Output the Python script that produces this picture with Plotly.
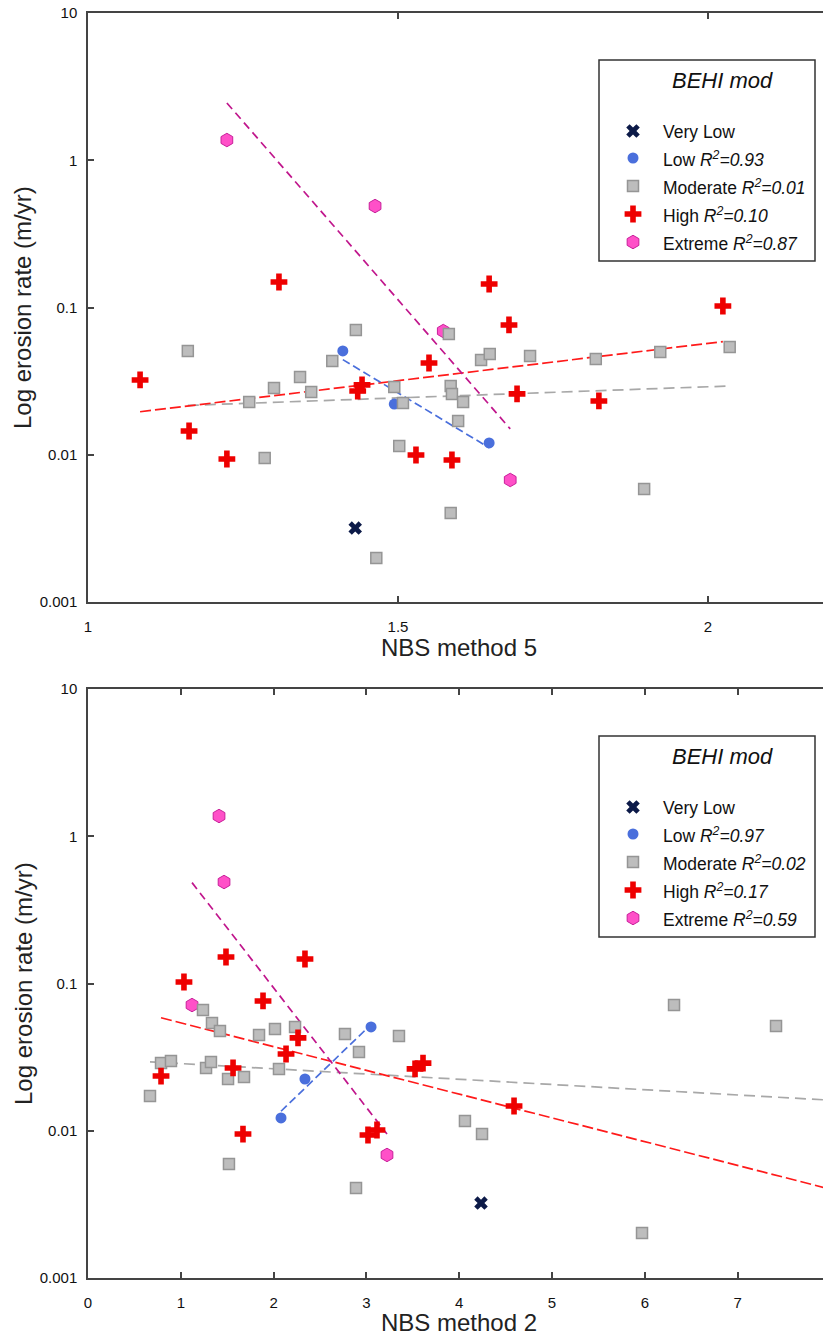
import numpy as np
import plotly.graph_objects as go

# ---------------- data: NBS method 5 (upper panel) ----------------
m5_vlow_x = [1.431]
m5_vlow_y = [0.00318]

m5_low_x = [1.411, 1.494, 1.647]
m5_low_y = [0.0507, 0.0221, 0.01202]

m5_mod_x = [1.161, 1.260, 1.285, 1.300, 1.342, 1.360, 1.394, 1.432, 1.465, 1.494,
            1.502, 1.508, 1.582, 1.585, 1.587, 1.597, 1.605, 1.585, 1.634, 1.648,
            1.713, 1.819, 1.897, 1.923, 2.035]
m5_mod_y = [0.0507, 0.0228, 0.00950, 0.0284, 0.0337, 0.0267, 0.0433, 0.0703, 0.00199, 0.0288,
            0.01147, 0.02246, 0.0661, 0.0293, 0.0259, 0.01696, 0.0228, 0.00402, 0.0440, 0.0483,
            0.0469, 0.0447, 0.00585, 0.0498, 0.0539]

m5_high_x = [1.084, 1.163, 1.224, 1.308, 1.435, 1.442, 1.529, 1.550, 1.587, 1.647,
             1.679, 1.692, 1.824, 2.024]
m5_high_y = [0.0322, 0.01450, 0.00936, 0.1490, 0.0271, 0.0298, 0.00996, 0.0420, 0.00921, 0.1444,
             0.0761, 0.0259, 0.0232, 0.1024]

m5_ext_x = [1.224, 1.463, 1.573, 1.681]
m5_ext_y = [1.372, 0.489, 0.0692, 0.00674]

m5_r2 = {"Low": "0.93", "Moderate": "0.01", "High": "0.10", "Extreme": "0.87"}

# ---------------- data: NBS method 2 (lower panel) ----------------
m2_vlow_x = [4.235]
m2_vlow_y = [0.00323]

m2_low_x = [2.080, 2.338, 3.050]
m2_low_y = [0.01221, 0.02246, 0.0507]

m2_mod_x = [0.668, 0.787, 0.894, 1.239, 1.272, 1.325, 1.336, 1.422, 1.509, 1.519,
            1.681, 1.843, 2.015, 2.058, 2.231, 2.769, 2.888, 2.920, 3.351, 4.062,
            4.246, 5.970, 6.315, 7.414]
m2_mod_y = [0.01722, 0.0288, 0.0298, 0.0661, 0.0267, 0.0293, 0.0539, 0.0476, 0.02246, 0.00595,
            0.0232, 0.0447, 0.0491, 0.0263, 0.0507, 0.0454, 0.00409, 0.0343, 0.0440, 0.01165,
            0.0095, 0.00202, 0.0714, 0.0514]

m2_high_x = [0.787, 1.034, 1.487, 1.563, 1.670, 1.886, 2.134, 2.263, 2.338, 3.017,
             3.114, 3.524, 3.610, 4.591]
m2_high_y = [0.02353, 0.1024, 0.1514, 0.0267, 0.0095, 0.0761, 0.0332, 0.0427, 0.1467, 0.00936,
             0.01012, 0.0263, 0.0288, 0.01473]

m2_ext_x = [1.121, 1.412, 1.466, 3.222]
m2_ext_y = [0.0714, 1.372, 0.489, 0.00685]

m2_r2 = {"Low": "0.97", "Moderate": "0.02", "High": "0.17", "Extreme": "0.59"}

# axis ticks
y_tickvals = [0.001, 0.01, 0.1, 1, 10]
y_ticktext = ["0.001", "0.01", "0.1", "1", "10"]
m5_xticks = [1, 1.5, 2]
m5_xticktext = ["1", "1.5", "2"]
m2_xticks = [0, 1, 2, 3, 4, 5, 6, 7]
m2_xticktext = [str(v) for v in m2_xticks]

# ---------------- styling ----------------
W, H = 823, 1338
FONT = "Liberation Sans, Arial, Helvetica, sans-serif"
AXIS_COL = "#444444"

STY = {
    "Very Low": dict(symbol="x", size=12, color="#0c1a48", line=dict(width=0)),
    "Low": dict(symbol="circle", size=11, color="#4a6fdc", line=dict(width=0)),
    "Moderate": dict(symbol="square", size=11, color="#bdbdbd", line=dict(width=1.5, color="#959595")),
    "High": dict(symbol="cross", size=14, color="#ee0000", line=dict(width=0)),
    "Extreme": dict(symbol="hexagon", size=13.5, color="#ff50c8", line=dict(width=1, color="#c8209a")),
}
FIT_COL = {"Low": "#4a6fdc", "Moderate": "#a8a8a8", "High": "#ff1a1a", "Extreme": "#c0168c"}
FIT_DASH = {"Low": "8px,4px", "Moderate": "11px,6px", "High": "11px,4px", "Extreme": "8px,5px"}


def log_fit(x, y, x_end=None):
    """Least-squares line of log10(y) on x, spanning the data (or up to x_end)."""
    x = np.asarray(x, float)
    b, a = np.polyfit(x, np.log10(np.asarray(y, float)), 1)
    xs = np.array([x.min(), x.max() if x_end is None else x_end])
    return xs, 10 ** (a + b * xs)


fig = go.Figure()


def add_panel(xa, ya, groups, ext_ends):
    # fitted trend lines first, markers on top
    for name in ["Moderate", "High", "Low", "Extreme"]:
        gx, gy = groups[name]
        fx, fy = log_fit(gx, gy, ext_ends.get(name))
        fig.add_trace(go.Scatter(x=fx, y=fy, mode="lines", xaxis=xa, yaxis=ya,
                                 line=dict(color=FIT_COL[name], width=1.7, dash=FIT_DASH[name]),
                                 showlegend=False, hoverinfo="skip"))
    for name in ["Extreme", "Low", "Moderate", "High", "Very Low"]:
        gx, gy = groups[name]
        fig.add_trace(go.Scatter(x=gx, y=gy, mode="markers", xaxis=xa, yaxis=ya,
                                 marker=STY[name], name=name, showlegend=False))


add_panel("x", "y", {
    "Very Low": (m5_vlow_x, m5_vlow_y), "Low": (m5_low_x, m5_low_y),
    "Moderate": (m5_mod_x, m5_mod_y), "High": (m5_high_x, m5_high_y),
    "Extreme": (m5_ext_x, m5_ext_y)}, {})

add_panel("x2", "y2", {
    "Very Low": (m2_vlow_x, m2_vlow_y), "Low": (m2_low_x, m2_low_y),
    "Moderate": (m2_mod_x, m2_mod_y), "High": (m2_high_x, m2_high_y),
    "Extreme": (m2_ext_x, m2_ext_y)}, {"Moderate": 8.0, "High": 8.0})

# ---------------- hand-built legend boxes ----------------
LEG_X0, LEG_X1 = 599, 815
LEG_ROWS = [71, 98, 126, 154, 182]
LEG_NAMES = ["Very Low", "Low", "Moderate", "High", "Extreme"]
annotations = []
shapes = []


def add_legend(xa, ya, top_px, r2):
    for n, ry in zip(LEG_NAMES, LEG_ROWS):
        fig.add_trace(go.Scatter(x=[34], y=[ry], mode="markers", xaxis=xa, yaxis=ya,
                                 marker=STY[n], showlegend=False, hoverinfo="skip"))
        label = n if n not in r2 else f"{n} <i>R<sup>2</sup>={r2[n]}</i>"
        annotations.append(dict(xref=xa, yref=ya, x=62, y=ry + 1, text=label,
                                showarrow=False, xanchor="left", yanchor="middle",
                                font=dict(family=FONT, size=17.5, color="#111111")))
    shapes.append(dict(type="rect", xref="paper", yref="paper",
                       x0=LEG_X0 / W, x1=LEG_X1 / W,
                       y0=1 - (top_px + 201) / H, y1=1 - top_px / H,
                       line=dict(color="#333333", width=1.5), fillcolor="rgba(0,0,0,0)"))
    annotations.append(dict(xref=xa, yref=ya, x=123, y=20, text="<i>BEHI mod</i>",
                            showarrow=False, xanchor="center", yanchor="middle",
                            font=dict(family=FONT, size=22, color="#111111")))


add_legend("x3", "y3", 60, m5_r2)
add_legend("x4", "y4", 736, m2_r2)

# axis titles
for ytitle_px, xtitle_px, xtitle in [(308, 647, "NBS method 5"), (984, 1322, "NBS method 2")]:
    annotations.append(dict(xref="paper", yref="paper", x=459 / W, y=1 - xtitle_px / H,
                            text=xtitle, showarrow=False, xanchor="center", yanchor="middle",
                            font=dict(family=FONT, size=24, color="#222222")))
    annotations.append(dict(xref="paper", yref="paper", x=23 / W, y=1 - ytitle_px / H,
                            text="Log erosion rate (m/yr)", textangle=-90, showarrow=False,
                            xanchor="center", yanchor="middle",
                            font=dict(family=FONT, size=24, color="#222222")))

tickfont = dict(family=FONT, size=15, color="#111111")
common_x = dict(showline=True, linecolor=AXIS_COL, linewidth=1.5, mirror="ticks",
                ticks="inside", ticklen=6, tickwidth=1.5, tickcolor=AXIS_COL,
                showgrid=False, zeroline=False, tickfont=tickfont, ticklabelstandoff=10,
                automargin=False, fixedrange=True)
common_y = dict(type="log", range=[-3, 1], showline=True, linecolor=AXIS_COL, linewidth=1.5,
                mirror=False, ticks="inside", ticklen=6, tickwidth=1.5, tickcolor=AXIS_COL,
                showgrid=False, zeroline=False, tickfont=tickfont, ticklabelstandoff=6,
                tickvals=y_tickvals, ticktext=y_ticktext, automargin=False, fixedrange=True)
hidden = dict(visible=False, automargin=False, fixedrange=True)

x_dom = [88 / W, 1.0]
top_dom = [1 - 602 / H, 1 - 13 / H]
bot_dom = [1 - 1278 / H, 1 - 689 / H]
leg_xdom = [LEG_X0 / W, LEG_X1 / W]

fig.update_layout(
    template="none",
    width=W, height=H, margin=dict(l=0, r=0, t=0, b=0, pad=0, autoexpand=False),
    paper_bgcolor="white", plot_bgcolor="white", showlegend=False,
    xaxis=dict(domain=x_dom, range=[1, 1 + 735 / 620], anchor="y",
               tickvals=m5_xticks, ticktext=m5_xticktext, **common_x),
    yaxis=dict(domain=top_dom, anchor="x", **common_y),
    xaxis2=dict(domain=x_dom, range=[0, 735 / 92.8], anchor="y2",
                tickvals=m2_xticks, ticktext=m2_xticktext, **common_x),
    yaxis2=dict(domain=bot_dom, anchor="x2", **common_y),
    xaxis3=dict(domain=leg_xdom, range=[0, 216], anchor="y3", **hidden),
    yaxis3=dict(domain=[1 - 261 / H, 1 - 60 / H], range=[201, 0], anchor="x3", **hidden),
    xaxis4=dict(domain=leg_xdom, range=[0, 216], anchor="y4", **hidden),
    yaxis4=dict(domain=[1 - 937 / H, 1 - 736 / H], range=[201, 0], anchor="x4", **hidden),
    annotations=annotations, shapes=shapes,
)

fig.write_html("out.html")
